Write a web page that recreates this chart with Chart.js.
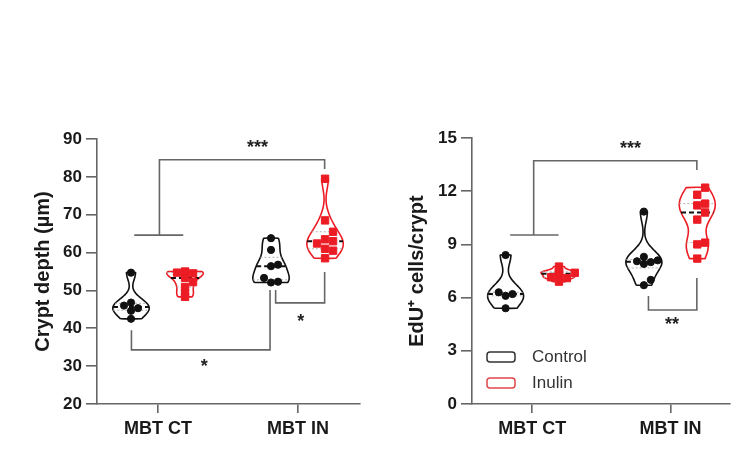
<!DOCTYPE html>
<html>
<head>
<meta charset="utf-8">
<script src="https://cdn.jsdelivr.net/npm/chart.js@4.4.1/dist/chart.umd.min.js"></script>
<style>
    body { margin: 0; background: #fff; width: 736px; height: 465px; overflow: hidden; position: relative; }
    canvas { position: absolute; top: 0; }
    #depthChart { left: 0; }
    #eduChart { left: 380px; }
</style>
</head>
<body>
<canvas id="depthChart" width="380" height="465"></canvas>
<canvas id="eduChart" width="356" height="465"></canvas>
<script>
const CATEGORIES = ['MBT CT', 'MBT IN'];
const SERIES = ['Control', 'Inulin'];

// Crypt depth (µm), one array per violin
const depthControlCT = [54.7, 46.8, 46.0, 45.3, 44.6, 42.5];
const depthInulinCT = [55.0, 54.8, 54.7, 54.5, 53.3, 52.2, 50.9, 49.3, 48.3];
const depthControlIN = [63.8, 60.7, 56.8, 56.4, 53.3, 52.3, 52.1];
const depthInulinIN = [79.5, 68.5, 65.5, 63.5, 63.0, 62.4, 61.0, 60.5, 58.5];

// EdU+ cells per crypt
const eduControlCT = [8.4, 6.3, 6.2, 6.1, 5.4];
const eduInulinCT = [7.75, 7.5, 7.45, 7.4, 7.35, 7.2, 7.15, 7.1, 6.9];
const eduControlIN = [10.85, 8.3, 8.1, 8.05, 8.0, 7.9, 7.0, 6.7];
const eduInulinIN = [12.2, 11.8, 11.3, 11.2, 10.8, 10.4, 9.1, 9.0, 8.2];

const depthTicks = [20, 30, 40, 50, 60, 70, 80, 90];
const eduTicks = [0, 3, 6, 9, 12, 15];

// significance brackets: [category position, value] pairs
const depthBrackets = [
    { path: [[0.83, 64.6], [1.18, 64.6]] },
    { path: [[1.01, 64.6], [1.01, 84.5], [2.19, 84.5], [2.19, 82.1]], label: '***', at: [1.71, 88.9] },
    { path: [[0.81, 39.5], [0.81, 34.3], [1.80, 34.3], [1.80, 50.1]], label: '*', at: [1.33, 31.1] },
    { path: [[1.84, 50.1], [1.84, 46.7], [2.19, 46.7], [2.19, 54.9]], label: '*', at: [2.02, 43.0] },
];
const eduBrackets = [
    { path: [[0.84, 9.53], [1.19, 9.53]] },
    { path: [[1.01, 9.53], [1.01, 13.72], [2.19, 13.72], [2.19, 13.2]], label: '***', at: [1.71, 14.7] },
    { path: [[1.84, 6.09], [1.84, 5.3], [2.19, 5.3], [2.19, 7.1]], label: '**', at: [2.01, 4.74] },
];

const BLACK = '#111111';
const RED = '#ec1c24';
const AXIS = '#666666';
const FONT = 'Arial, "Liberation Sans", sans-serif';

const GROUP_OFFSET = 0.193;   // control left / inulin right of the tick
const HALF_WIDTH = 0.13;      // widest part of a violin, in category units
const X_PX = 140;             // px per category unit (both panels)

// --- helpers ---
function quantile(values, q) {
    const s = [...values].sort((a, b) => a - b);
    const pos = (s.length - 1) * q;
    const lo = Math.floor(pos), hi = Math.ceil(pos);
    return s[lo] + (s[hi] - s[lo]) * (pos - lo);
}

function bandwidth(values) {
    const n = values.length;
    const mean = values.reduce((a, b) => a + b, 0) / n;
    const sd = Math.sqrt(values.reduce((a, v) => a + (v - mean) ** 2, 0) / (n - 1));
    return 0.7 * sd * Math.pow(n, -0.2);
}

function density(values, h, y) {
    let s = 0;
    values.forEach(v => {
        const z = (y - v) / h;
        s += Math.exp(-0.5 * z * z);
    });
    return s;
}

function makeViolin(values, center) {
    const lo = Math.min(...values), hi = Math.max(...values);
    const h = bandwidth(values);
    const steps = 40;
    const ys = [];
    for (let i = 0; i <= steps; i++) ys.push(lo + (hi - lo) * i / steps);
    const dens = ys.map(y => density(values, h, y));
    const maxD = Math.max(...dens);
    const widthAt = y => HALF_WIDTH * density(values, h, y) / maxD;
    const left = ys.map((y, i) => ({ x: center - HALF_WIDTH * dens[i] / maxD, y }));
    const right = ys.map((y, i) => ({ x: center + HALF_WIDTH * dens[i] / maxD, y })).reverse();
    return { outline: [...left, ...right, left[0]], widthAt };
}

// spread points sideways when they would overlap (simple beeswarm), kept inside the violin
function swarm(values, center, yPx, widthAt, gap) {
    const placed = [];
    const out = new Array(values.length);
    const order = values.map((v, i) => i).sort((a, b) => values[a] - values[b]);
    order.forEach(i => {
        const py = values[i] * yPx;
        const room = Math.max(0, widthAt(values[i]) * X_PX - 3);
        const cands = [0];
        for (let k = 1; k < 6; k++) cands.push(k * gap, -k * gap);
        let px = 0;
        for (const c of cands) {
            if (Math.abs(c) > room + 1) continue;
            if (placed.every(p => Math.hypot(p.px - c, p.py - py) >= gap)) { px = c; break; }
        }
        placed.push({ px, py });
        out[i] = { x: center + px / X_PX, y: values[i] };
    });
    return out;
}

function violinDatasets(values, center, color, pointStyle, yPx) {
    const v = makeViolin(values, center);
    const med = quantile(values, 0.5);
    const q1 = quantile(values, 0.25);
    const q3 = quantile(values, 0.75);
    const lineAt = y => [{ x: center - v.widthAt(y), y }, { x: center + v.widthAt(y), y }];
    const isRect = pointStyle === 'rect';
    return [
        {
            data: swarm(values, center, yPx, v.widthAt, isRect ? 8 : 7),
            pointStyle: pointStyle,
            pointRadius: isRect ? 5.2 : 3.6,
            backgroundColor: color,
            borderColor: color,
            borderWidth: 1,
            order: 0
        },
        {
            data: lineAt(med), showLine: true, pointRadius: 0,
            borderColor: BLACK, borderWidth: 2, borderDash: [5, 3], order: 1
        },
        {
            data: lineAt(q1), showLine: true, pointRadius: 0,
            borderColor: '#b0b0b0', borderWidth: 1, borderDash: [2, 2], order: 1
        },
        {
            data: lineAt(q3), showLine: true, pointRadius: 0,
            borderColor: '#b0b0b0', borderWidth: 1, borderDash: [2, 2], order: 1
        },
        {
            data: v.outline, showLine: true, pointRadius: 0, tension: 0.2,
            borderColor: color, borderWidth: 1.6, fill: false, order: 2
        }
    ];
}

function bracketDatasets(brackets) {
    return brackets.map(b => ({
        data: b.path.map(p => ({ x: p[0], y: p[1] })),
        showLine: true, pointRadius: 0,
        borderColor: AXIS, borderWidth: 1.6, order: 3
    }));
}

const starPlugin = brackets => ({
    id: 'stars',
    afterDatasetsDraw(chart) {
        const { ctx, scales } = chart;
        ctx.save();
        ctx.fillStyle = '#222';
        ctx.font = 'bold 18px ' + FONT;
        ctx.textAlign = 'center';
        ctx.textBaseline = 'alphabetic';
        brackets.filter(b => b.label).forEach(b => {
            const x = scales.x.getPixelForValue(b.at[0]);
            const y = scales.y.getPixelForValue(b.at[1]);
            ctx.fillText(b.label, x, y + 18 * 0.57);
        });
        ctx.restore();
    }
});

const legendPlugin = {
    id: 'violinLegend',
    afterDraw(chart) {
        const { ctx, chartArea } = chart;
        ctx.save();
        SERIES.forEach((name, i) => {
            const y = chartArea.top + 219 + i * 26;
            const x = chartArea.left + 15;
            ctx.strokeStyle = i === 0 ? '#333' : '#e0474d';
            ctx.lineWidth = 1.5;
            ctx.beginPath();
            ctx.roundRect(x, y - 5, 28, 10, 3);
            ctx.stroke();
            ctx.fillStyle = '#333';
            ctx.font = '17px ' + FONT;
            ctx.textAlign = 'left';
            ctx.textBaseline = 'middle';
            ctx.fillText(name, x + 45, y);
        });
        ctx.restore();
    }
};

function makeChart(id, groups, brackets, ticks, title, yAxisWidth, titlePad, padding, extraPlugins) {
    const yMin = ticks[0], yMax = ticks[ticks.length - 1];
    const yPx = 265.5 / (yMax - yMin);
    let datasets = [];
    groups.forEach(g => {
        datasets = datasets.concat(violinDatasets(g.values, g.center, g.color, g.style, yPx));
    });
    datasets = datasets.concat(bracketDatasets(brackets));

    return new Chart(document.getElementById(id), {
        type: 'scatter',
        data: { datasets },
        options: {
            responsive: false,
            animation: false,
            events: [],
            layout: { padding },
            plugins: { legend: { display: false }, tooltip: { enabled: false } },
            scales: {
                x: {
                    type: 'linear',
                    min: 0.564,
                    max: 0.564 + (padding.chartWidth) / X_PX,
                    afterBuildTicks: scale => { scale.ticks = [{ value: 1 }, { value: 2 }]; },
                    afterFit: scale => { scale.height = 40; },
                    ticks: {
                        callback: v => CATEGORIES[v - 1],
                        color: '#1a1a1a',
                        font: { family: FONT, size: 18, weight: 'bold' },
                        padding: 5,
                        maxRotation: 0
                    },
                    grid: { drawOnChartArea: false, tickLength: 9, color: AXIS, lineWidth: 1.6 },
                    border: { display: true, color: AXIS, width: 1.6 }
                },
                y: {
                    min: yMin,
                    max: yMax,
                    afterBuildTicks: scale => { scale.ticks = ticks.map(v => ({ value: v })); },
                    afterFit: scale => { scale.width = yAxisWidth; },
                    ticks: {
                        color: '#1a1a1a',
                        font: { family: FONT, size: 17, weight: 'bold' },
                        padding: 4
                    },
                    grid: { drawOnChartArea: false, tickLength: 11, color: AXIS, lineWidth: 1.6 },
                    border: { display: true, color: AXIS, width: 1.6 },
                    title: {
                        display: true,
                        text: title,
                        color: '#1a1a1a',
                        font: { family: FONT, size: 20, weight: 'bold' },
                        padding: { top: titlePad, bottom: 0 }
                    }
                }
            }
        },
        plugins: [starPlugin(brackets)].concat(extraPlugins)
    });
}

function groupsFor(ctCtrl, ctInu, inCtrl, inInu) {
    return [
        { values: ctCtrl, center: 1 - GROUP_OFFSET, color: BLACK, style: 'circle' },
        { values: ctInu, center: 1 + GROUP_OFFSET, color: RED, style: 'rect' },
        { values: inCtrl, center: 2 - GROUP_OFFSET, color: BLACK, style: 'circle' },
        { values: inInu, center: 2 + GROUP_OFFSET, color: RED, style: 'rect' },
    ];
}

makeChart('depthChart',
    groupsFor(depthControlCT, depthInulinCT, depthControlIN, depthInulinIN),
    depthBrackets, depthTicks, 'Crypt depth (µm)', 97, 31,
    { left: 0, top: 139, right: 20, bottom: 21, chartWidth: 263 }, []);

makeChart('eduChart',
    groupsFor(eduControlCT, eduInulinCT, eduControlIN, eduInulinIN),
    eduBrackets, eduTicks, 'EdU⁺ cells/crypt', 92, 25,
    { left: 0, top: 138, right: 3, bottom: 21, chartWidth: 261 }, [legendPlugin]);
</script>
</body>
</html>
